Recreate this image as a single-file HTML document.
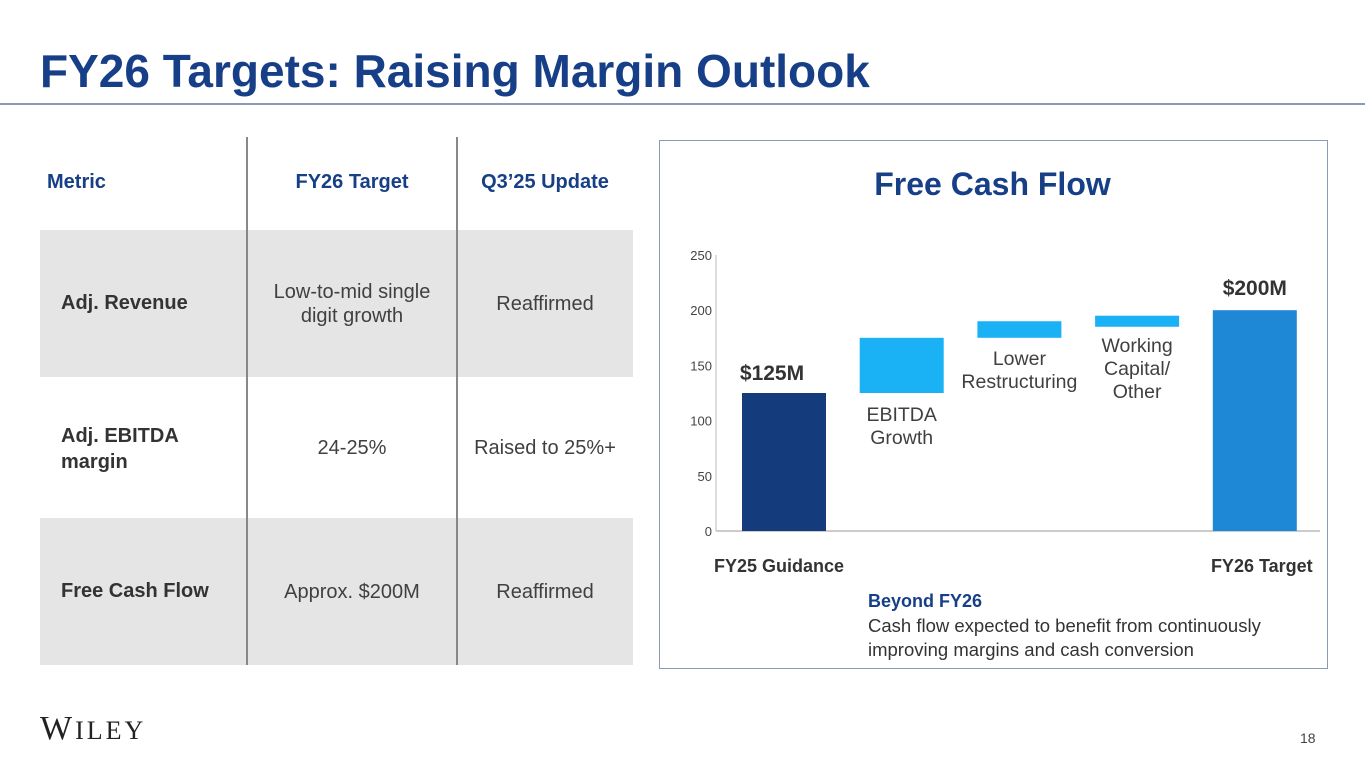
<!DOCTYPE html>
<html><head><meta charset="utf-8"><style>
body{margin:0;width:1365px;height:768px;background:#fff;font-family:"Liberation Sans","DejaVu Sans",sans-serif;position:relative;overflow:hidden}
.a{position:absolute}
.t{color:#404040;font-size:20px;text-align:center;line-height:24px}
.h{color:#173f87;font-weight:bold;font-size:20px}
</style></head><body>
<div class="a" style="left:40px;top:44px;font-size:46px;font-weight:bold;color:#173f87;letter-spacing:0px">FY26 Targets: Raising Margin Outlook</div>
<div class="a" style="left:0;top:103px;width:1365px;height:2px;background:#8a9bb5"></div>

<div>
<div class="a" style="left:40px;top:230px;width:593px;height:147px;background:#e5e5e5"></div>
<div class="a" style="left:40px;top:518px;width:593px;height:147px;background:#e5e5e5"></div>
<div class="a" style="left:246px;top:137px;width:1.5px;height:528px;background:#888"></div>
<div class="a" style="left:456px;top:137px;width:1.5px;height:528px;background:#888"></div>
<div class="a h" style="left:47px;top:171px">Metric</div>
<div class="a h" style="left:247px;width:210px;text-align:center;top:171px">FY26 Target</div>
<div class="a h" style="left:457px;width:176px;text-align:center;top:171px">Q3’25 Update</div>
<div class="a" style="left:61px;top:292px;font-size:20px;font-weight:bold;color:#333">Adj. Revenue</div>
<div class="a t" style="left:257px;width:190px;top:280px">Low-to-mid single digit growth</div>
<div class="a t" style="left:457px;width:176px;top:292px">Reaffirmed</div>
<div class="a" style="left:61px;top:423px;width:170px;font-size:20px;font-weight:bold;color:#333;line-height:26px">Adj. EBITDA margin</div>
<div class="a t" style="left:247px;width:210px;top:436px">24-25%</div>
<div class="a t" style="left:457px;width:176px;top:436px">Raised to 25%+</div>
<div class="a" style="left:61px;top:580px;font-size:20px;font-weight:bold;color:#333">Free Cash Flow</div>
<div class="a t" style="left:247px;width:210px;top:580px">Approx. $200M</div>
<div class="a t" style="left:457px;width:176px;top:580px">Reaffirmed</div>
</div>

<div class="a" style="left:659px;top:140px;width:667px;height:527px;border:1px solid #8a9bb5"></div>
<div class="a" style="left:659px;width:667px;text-align:center;top:166px;font-size:32px;font-weight:bold;color:#173f87">Free Cash Flow</div>
<svg class="a" style="left:0;top:0" width="1365" height="768" id="ch"></svg>
<div class="a" style="left:868px;top:591px;font-size:18px;font-weight:bold;color:#173f87">Beyond FY26</div>
<div class="a" style="left:868px;top:614px;font-size:18.5px;color:#333;line-height:24px;width:460px">Cash flow expected to benefit from continuously improving margins and cash conversion</div>

<div class="a" style="left:40px;top:710px;font-family:'Liberation Serif',serif;font-size:34px;color:#222;letter-spacing:3px">W<span style="font-size:26px">ILEY</span></div>
<div class="a" style="left:1300px;top:730px;font-size:14px;color:#444">18</div>

<script>
const categories=["FY25 Guidance","EBITDA Growth","Lower Restructuring","Working Capital/ Other","FY26 Target"];
const barStart=[0,125,175,185,0];
const barEnd=[125,175,190,195,200];
const ticks=[0,50,100,150,200,250];
const NS="http://www.w3.org/2000/svg";
const svg=document.getElementById('ch');
const y0=531,pxPer=276/250,xAxis=716,slotW=117.7,barW=84,firstX=742;
const y=v=>y0-v*pxPer;
const x=i=>firstX+i*slotW;
function mk(t,a){const e=document.createElementNS(NS,t);for(const k in a)e.setAttribute(k,a[k]);svg.appendChild(e);return e;}
let ax=mk('line',{x1:xAxis,y1:y(250),x2:xAxis,y2:y0,stroke:'#bbb','stroke-width':1});


let bx=mk('line',{x1:xAxis,y1:y0,x2:1320,y2:y0,stroke:'#bbb','stroke-width':1.5});


ticks.forEach(v=>{const t=mk('text',{x:xAxis-4,y:y(v)+5,'text-anchor':'end','font-size':13,fill:'#444','font-family':'Liberation Sans'});t.textContent=v;

});
const colors=['#143c7d','#1ab2f5','#1ab2f5','#1ab2f5','#1e88d6'];
categories.forEach((c,i)=>{const r=mk('rect',{x:x(i),y:y(barEnd[i]),width:barW,height:y(barStart[i])-y(barEnd[i]),fill:colors[i]});

});
function txt(s,xx,yy,o){const t=mk('text',Object.assign({x:xx,y:yy,'text-anchor':'middle','font-family':'Liberation Sans',fill:'#404040','font-size':19.5},o||{}));t.textContent=s;return t;}
let l;
l=txt('$'+barEnd[0]+'M',x(0)+barW/2-12,y(barEnd[0])-13,{'font-weight':'bold','font-size':21,fill:'#333'});


l=txt('$'+barEnd[4]+'M',x(4)+barW/2,y(barEnd[4])-15,{'font-weight':'bold','font-size':21,fill:'#333'});


[['EBITDA','Growth'],['Lower','Restructuring'],['Working','Capital/','Other']].forEach((ls,k)=>{const i=k+1;
const base=i===1?y(barStart[i])+28:(i===2?y(barStart[i])+27:y(barStart[i])+25);
ls.forEach((s,j)=>{const t=txt(s,x(i)+barW/2,base+j*23);

});});
l=txt(categories[0],x(0)+barW/2-5,572,{'font-weight':'bold','font-size':18,fill:'#333'});


l=txt(categories[4],x(4)+barW/2+7,572,{'font-weight':'bold','font-size':18,fill:'#333'});


</script>
</body></html>
